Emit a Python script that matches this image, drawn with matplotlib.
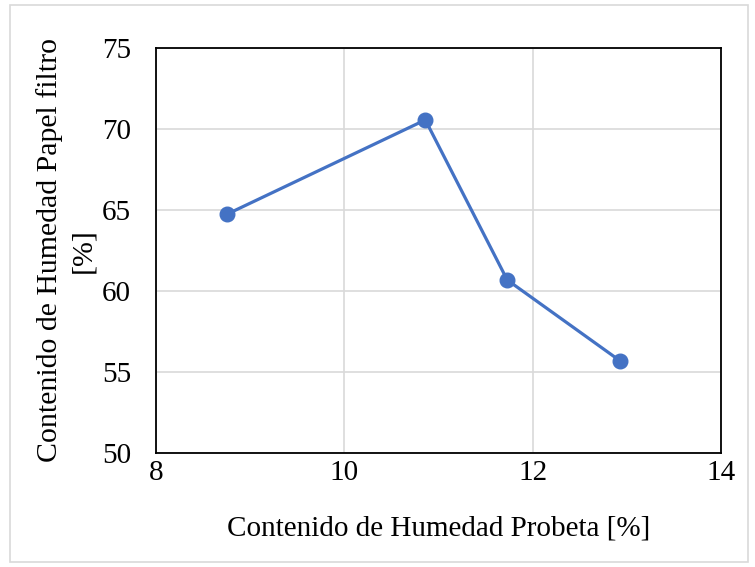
import matplotlib.pyplot as plt
from matplotlib.patches import Rectangle

# datos
humedad_probeta = [8.75, 10.86, 11.73, 12.93]
humedad_papel = [64.73, 70.56, 60.68, 55.68]
x_ticks = [8, 10, 12, 14]
y_ticks = [50, 55, 60, 65, 70, 75]

plt.rcParams['font.family'] = ['Liberation Serif', 'DejaVu Serif']

fig = plt.figure(figsize=(7.55, 5.67), dpi=100)
ax = fig.add_axes([156 / 755, 1 - 453 / 567, 565 / 755, 405 / 567])

ax.plot(humedad_probeta, humedad_papel, color='#4472C4', lw=2.3,
        marker='o', ms=10.5, zorder=3)

ax.set_xlim(8, 14)
ax.set_ylim(50, 75)
ax.set_xticks(x_ticks)
ax.set_yticks(y_ticks)
ax.tick_params(length=0, labelsize=21)
ax.tick_params(axis='y', pad=18)
ax.tick_params(axis='x', pad=5)
ax.grid(True, color='#d9d9d9', lw=1.2)
ax.set_axisbelow(True)
for s in ax.spines.values():
    s.set_color('black')
    s.set_linewidth(1.3)

ax.set_xlabel('Contenido de Humedad Probeta [%]', fontsize=21)
ax.set_ylabel('Contenido de Humedad Papel filtro\n[%]', fontsize=21.5,
              linespacing=1.35)
ax.xaxis.set_label_coords(0.5, -(515 - 453) / 405)
ax.yaxis.set_label_coords(-(156 - 96) / 565, 0.5)

# borde exterior
fig.patches.append(Rectangle((10 / 755, 5 / 567), 738 / 755, 557 / 567,
                             transform=fig.transFigure, fill=False,
                             edgecolor='#d9d9d9', lw=1.2))

fig.savefig('out.png', dpi=100)
